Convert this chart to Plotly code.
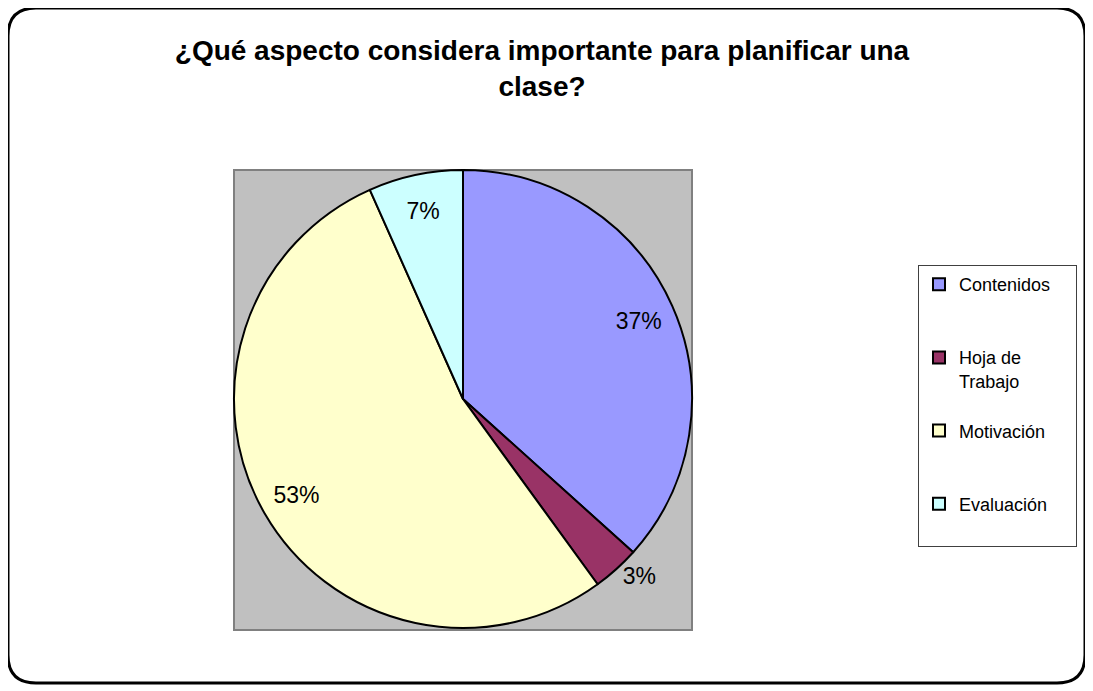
import plotly.graph_objects as go

# page body has an 8px margin, so the figure is sized to fill the rest of the window
OFF = 8
W, H = 1093 - OFF, 691 - OFF

categories = ["Contenidos", "Hoja de Trabajo", "Motivación", "Evaluación"]
legend_labels = [
    "Contenidos&nbsp;&nbsp;&nbsp;&nbsp;<br> <br> ",
    "Hoja de<br>Trabajo<br> ",
    "Motivación<br> <br> ",
    "Evaluación<br> ",
]
values = [11, 1, 16, 2]
colors = ["#9999FF", "#993366", "#FFFFCC", "#CCFFFF"]
text_positions = ["inside", "outside", "inside", "inside"]
title_text = "¿Qué aspecto considera importante para planificar una<br>clase?"

FONT = "Arial, Liberation Sans, sans-serif"


def px(x):
    return (x - OFF) / W


def py(y):
    return 1 - (y - OFF) / H


domain = dict(x=[px(234), px(692)], y=[py(628), py(170)])

fig = go.Figure()
# the slices
fig.add_trace(go.Pie(
    labels=legend_labels,
    values=values,
    sort=False,
    direction="clockwise",
    rotation=0,
    marker=dict(colors=colors, line=dict(color="black", width=2)),
    textinfo="none",
    hoverinfo="label+percent",
    domain=domain,
))
# transparent ring carrying the percentage labels near the rim
fig.add_trace(go.Pie(
    labels=categories,
    values=values,
    sort=False,
    direction="clockwise",
    rotation=0,
    hole=0.68,
    marker=dict(colors=["rgba(0,0,0,0)"] * len(values), line=dict(width=0)),
    texttemplate="%{percent:.0%}",
    textposition=text_positions,
    insidetextorientation="horizontal",
    textfont=dict(family=FONT, size=23, color="black"),
    hoverinfo="skip",
    showlegend=False,
    domain=domain,
))

# rounded outer frame
r = 28
x0, y0, x1, y1 = 8, 8, 1085, 683
path = (
    f"M {px(x0 + r)},{py(y0)} L {px(x1 - r)},{py(y0)} "
    f"Q {px(x1)},{py(y0)} {px(x1)},{py(y0 + r)} "
    f"L {px(x1)},{py(y1 - r)} Q {px(x1)},{py(y1)} {px(x1 - r)},{py(y1)} "
    f"L {px(x0 + r)},{py(y1)} Q {px(x0)},{py(y1)} {px(x0)},{py(y1 - r)} "
    f"L {px(x0)},{py(y0 + r)} Q {px(x0)},{py(y0)} {px(x0 + r)},{py(y0)} Z"
)

fig.update_layout(
    width=W, height=H,
    margin=dict(l=0, r=0, t=0, b=0),
    paper_bgcolor="white",
    plot_bgcolor="white",
    title=dict(
        text=title_text,
        x=px(542), xanchor="center",
        y=py(60), yanchor="top",
        font=dict(family=FONT, size=28, color="black", weight="bold"),
    ),
    legend=dict(
        x=px(918), xanchor="left",
        y=py(265), yanchor="top",
        bgcolor="white",
        bordercolor="#404040",
        borderwidth=1,
        valign="top",
        font=dict(family=FONT, size=18, color="black"),
        traceorder="normal",
    ),
    shapes=[
        dict(type="rect", xref="paper", yref="paper",
             x0=px(234), x1=px(692), y0=py(630), y1=py(170),
             fillcolor="#C0C0C0", line=dict(color="#808080", width=2), layer="below"),
        dict(type="path", xref="paper", yref="paper", path=path,
             line=dict(color="black", width=3), fillcolor="rgba(0,0,0,0)", layer="above"),
    ],
)

fig.write_html("out.html")
